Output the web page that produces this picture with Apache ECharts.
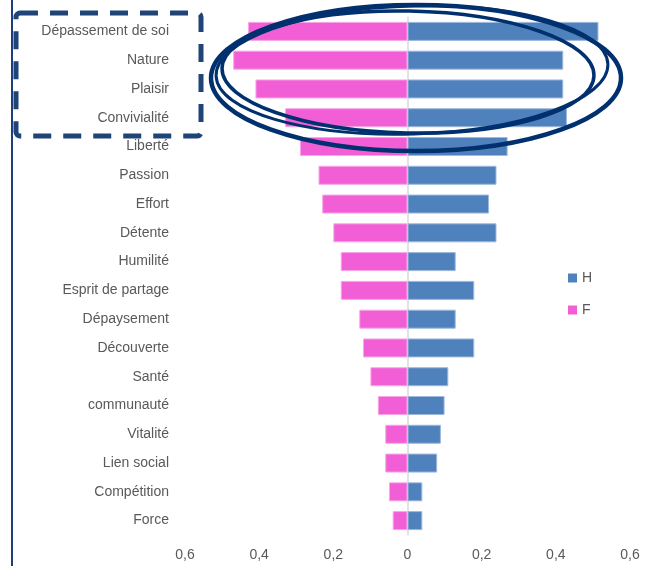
<!DOCTYPE html>
<html>
<head>
<meta charset="utf-8">
<script src="https://cdn.jsdelivr.net/npm/echarts@6/dist/echarts.min.js"></script>
<style>
  html, body { margin: 0; padding: 0; background: #fff; }
  #chart { width: 658px; height: 566px; }
</style>
</head>
<body>
<div id="chart"></div>
<script>
var categories = ['Dépassement de soi', 'Nature', 'Plaisir', 'Convivialité', 'Liberté', 'Passion',
  'Effort', 'Détente', 'Humilité', 'Esprit de partage', 'Dépaysement', 'Découverte', 'Santé',
  'communauté', 'Vitalité', 'Lien social', 'Compétition', 'Force'];
var valuesH = [0.515, 0.42, 0.42, 0.43, 0.27, 0.24, 0.22, 0.24, 0.13, 0.18, 0.13, 0.18, 0.11, 0.10, 0.09, 0.08, 0.04, 0.04];
var valuesF = [0.43, 0.47, 0.41, 0.33, 0.29, 0.24, 0.23, 0.20, 0.18, 0.18, 0.13, 0.12, 0.10, 0.08, 0.06, 0.06, 0.05, 0.04];

var chart = echarts.init(document.getElementById('chart'));
var txt = '#595959';
var navy = '#00306e';

var option = {
  animation: false,
  textStyle: { fontFamily: 'Liberation Sans', color: txt },
  grid: { left: 185, right: 28, top: 17, bottom: 31 },
  legend: {
    orient: 'vertical', left: 563, top: 266, itemGap: 18,
    icon: 'rect', itemWidth: 9, itemHeight: 9,
    itemStyle: { borderWidth: 0 },
    textStyle: { color: txt, fontSize: 14 },
    data: ['H', 'F']
  },
  xAxis: {
    type: 'value', min: -0.6, max: 0.6, interval: 0.2,
    splitLine: { show: false },
    axisLine: { show: false }, axisTick: { show: false },
    axisLabel: {
      color: txt, fontSize: 14, margin: 13,
      formatter: function (v) {
        var a = Math.round(Math.abs(v) * 10) / 10;
        return a === 0 ? '0' : String(a).replace('.', ',');
      }
    }
  },
  yAxis: {
    type: 'category', inverse: true, data: categories,
    axisLine: { show: true, lineStyle: { color: '#d9d9d9', width: 1.5 } },
    axisTick: { show: false },
    axisLabel: { color: txt, fontSize: 14, margin: 16 }
  },
  series: [
    {
      name: 'H', type: 'bar', data: valuesH, barWidth: 19, barGap: '-100%', z: 2,
      itemStyle: { color: '#4F81BD', borderColor: '#9fb9dc', borderWidth: 1 }
    },
    {
      name: 'F', type: 'bar', z: 2, barWidth: 19,
      data: valuesF.map(function (v) { return -v; }),
      itemStyle: { color: '#F25ED6', borderColor: '#f7a6e6', borderWidth: 1 }
    }
  ],
  graphic: [
    { type: 'line', shape: { x1: 12, y1: 0, x2: 12, y2: 566 }, style: { stroke: '#1f3f7a', lineWidth: 2 }, z: 10 },
    { type: 'rect', shape: { x: 16, y: 13, width: 185, height: 123, r: 4 },
      style: { fill: 'none', stroke: '#1f4478', lineWidth: 5, lineDash: [18, 12] }, z: 10 },
    { type: 'ellipse', shape: { cx: 416, cy: 78, rx: 205, ry: 73 },
      style: { fill: 'none', stroke: navy, lineWidth: 4.5 }, z: 10 },
    { type: 'ellipse', shape: { cx: 408, cy: 72, rx: 186, ry: 61 }, rotation: -0.02, originX: 408, originY: 72,
      style: { fill: 'none', stroke: navy, lineWidth: 3.5 }, z: 10 },
    { type: 'ellipse', shape: { cx: 412, cy: 70, rx: 196, ry: 64 }, rotation: 0.03, originX: 412, originY: 70,
      style: { fill: 'none', stroke: navy, lineWidth: 3 }, z: 10 }
  ]
};
chart.setOption(option);
</script>
</body>
</html>
